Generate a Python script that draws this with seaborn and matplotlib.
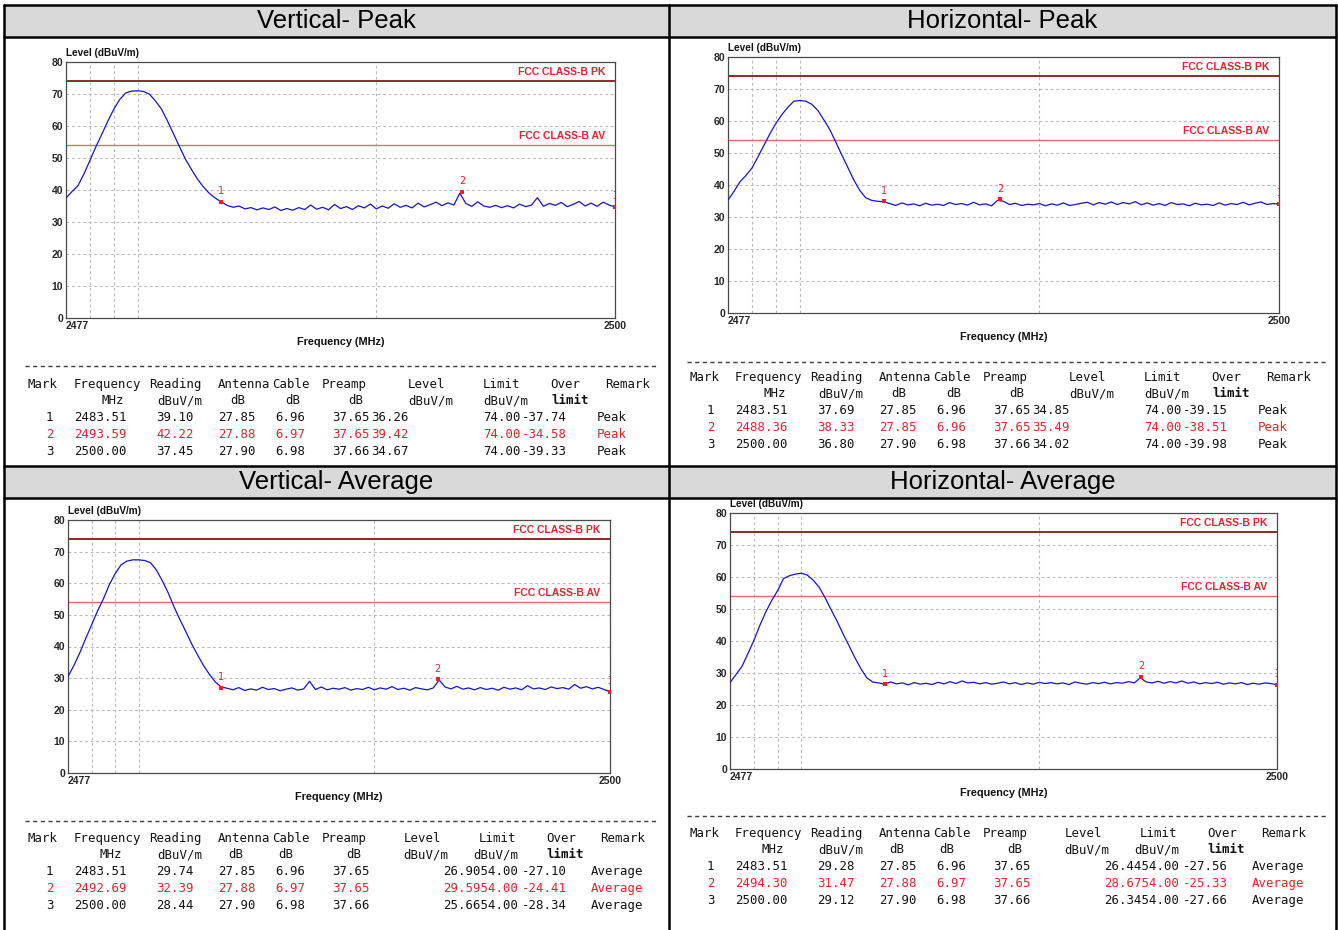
import matplotlib
matplotlib.use('Agg')
import matplotlib.pyplot as plt
from matplotlib import font_manager
from matplotlib.patches import Rectangle
import seaborn as sns

sns.set_style('white')
plt.rcParams['font.family'] = ['DejaVu Sans']

W, H = 1338, 930

# Frequency sweep points (MHz)
freq_mhz = [
    2477.00, 2477.25, 2477.50, 2477.75, 2478.00, 2478.25, 2478.50, 2478.75,
    2479.00, 2479.25, 2479.50, 2479.75, 2480.00, 2480.25, 2480.50, 2480.75,
    2481.00, 2481.25, 2481.50, 2481.75, 2482.00, 2482.25, 2482.50, 2482.75,
    2483.00, 2483.25, 2483.50, 2483.75, 2484.00, 2484.25, 2484.50, 2484.75,
    2485.00, 2485.25, 2485.50, 2485.75, 2486.00, 2486.25, 2486.50, 2486.75,
    2487.00, 2487.25, 2487.50, 2487.75, 2488.00, 2488.25, 2488.50, 2488.75,
    2489.00, 2489.25, 2489.50, 2489.75, 2490.00, 2490.25, 2490.50, 2490.75,
    2491.00, 2491.25, 2491.50, 2491.75, 2492.00, 2492.25, 2492.50, 2492.75,
    2493.00, 2493.25, 2493.50, 2493.75, 2494.00, 2494.25, 2494.50, 2494.75,
    2495.00, 2495.25, 2495.50, 2495.75, 2496.00, 2496.25, 2496.50, 2496.75,
    2497.00, 2497.25, 2497.50, 2497.75, 2498.00, 2498.25, 2498.50, 2498.75,
    2499.00, 2499.25, 2499.50, 2499.75, 2500.00,
]

# Level traces (dBuV/m)
vert_peak_trace = [
    37.5, 39.5, 41.3, 45.0, 49.2, 53.5, 57.4, 61.5,
    65.2, 68.3, 70.3, 70.9, 71.0, 70.8, 69.9, 67.8,
    65.3, 61.6, 57.6, 53.6, 49.7, 46.5, 43.5, 41.0,
    39.0, 37.5, 36.3, 35.2, 34.6, 35.0, 34.1, 34.5,
    33.8, 34.4, 33.9, 34.7, 33.6, 34.2, 33.7, 34.5,
    33.9, 35.3, 34.0, 34.6, 33.8, 35.5, 34.2, 34.8,
    33.9, 35.1, 34.4, 35.6, 34.1, 35.0, 34.3, 35.7,
    34.6, 35.2, 34.4, 35.9, 34.7, 35.4, 36.2, 35.1,
    36.0, 35.3, 39.0, 35.8, 34.9, 36.3, 35.0, 34.6,
    35.2, 34.5, 35.1, 34.4, 35.6, 34.8, 35.3, 37.6,
    34.9, 35.8, 35.2, 36.1, 34.8, 35.5, 36.4, 35.0,
    35.9, 34.9, 36.2, 35.3, 34.7,
]
horz_peak_trace = [
    35.3, 38.0, 41.0, 43.0, 45.3, 48.8, 52.4, 56.0,
    59.3, 62.0, 64.3, 66.2, 66.4, 66.2, 65.2, 63.3,
    60.4, 57.3, 53.4, 49.4, 45.5, 41.6, 38.3, 36.0,
    35.2, 34.9, 34.8, 34.2, 33.6, 34.4, 33.8, 34.1,
    33.5, 34.3, 33.7, 34.0, 33.6, 34.5, 33.9, 34.2,
    33.7, 34.6, 33.8, 34.1, 33.5, 35.2, 34.9, 33.9,
    34.3, 33.6, 34.0, 33.8, 34.2, 33.5, 34.1, 33.7,
    34.4, 33.6, 33.9, 34.3, 34.6, 33.8, 34.5, 34.0,
    34.7, 33.9, 34.5, 34.1, 34.8, 33.8, 34.4, 33.7,
    34.2, 33.6, 34.5, 33.9, 34.1, 33.5, 34.3, 33.8,
    34.0, 33.6, 34.4, 33.7, 34.2, 33.9, 34.6, 33.8,
    34.3, 34.7, 33.9, 34.2, 34.0,
]
vert_avg_trace = [
    30.5, 34.0, 38.0, 42.5, 46.8, 51.2, 55.0, 59.5,
    63.0, 65.8, 67.0, 67.4, 67.4, 67.2, 66.5, 64.2,
    60.8, 57.0, 52.5, 48.5, 44.7, 40.8, 37.3, 34.0,
    31.2, 28.8, 27.2, 26.8, 26.3, 27.0, 26.1, 26.6,
    26.2, 27.1, 26.4, 26.7, 26.0, 26.5, 26.9, 26.2,
    26.6, 29.0, 26.4, 27.2, 26.3, 26.8, 26.5, 27.0,
    26.2, 26.7, 26.4, 27.1, 26.3, 26.9, 26.5, 27.3,
    26.4, 26.8, 26.2, 27.0, 26.6, 26.3, 26.9, 29.4,
    27.2, 26.6, 27.4, 26.5, 26.9, 26.3, 27.0, 26.4,
    26.8, 26.2, 27.1, 26.5, 26.9, 26.3, 27.6, 26.6,
    26.9, 26.4, 27.2, 26.7, 27.0, 26.5, 28.0, 26.8,
    27.3, 26.6, 27.1, 26.4, 25.7,
]
horz_avg_trace = [
    27.0, 29.5, 32.0, 36.0, 40.1, 44.8, 49.0, 52.6,
    55.7, 59.5, 60.4, 60.9, 61.2, 60.6, 59.0, 56.8,
    53.5, 49.8, 46.2, 42.3, 38.6, 34.8, 31.4, 28.5,
    27.2, 26.9, 26.5, 27.2, 26.6, 26.9, 26.3, 27.0,
    26.5, 26.8, 26.4, 27.1, 26.6, 27.3, 26.7, 27.5,
    26.9, 27.1, 26.6, 27.0, 26.5, 26.8, 27.2, 26.6,
    27.0, 26.4, 26.9, 26.5, 27.1, 26.7, 27.0, 26.6,
    26.9, 26.4, 27.2, 26.8, 26.5, 27.0, 26.7, 27.1,
    26.6, 27.0, 26.8, 27.3, 26.9, 28.5, 27.2, 26.9,
    27.4, 26.8, 27.3, 26.9, 27.5, 26.8, 27.2, 26.6,
    27.0, 26.7, 27.1, 26.5, 26.9, 26.6, 27.0, 26.4,
    26.8, 26.5, 26.9, 26.7, 26.3,
]

grid_freqs = [2478, 2479, 2480, 2490]
pk_limit = 74
av_limit = 54

# Marker tables
mark_no = [1, 2, 3]

vp_freq = [2483.51, 2493.59, 2500.00]
vp_reading = [39.10, 42.22, 37.45]
vp_antenna = [27.85, 27.88, 27.90]
vp_cable = [6.96, 6.97, 6.98]
vp_preamp = [37.65, 37.65, 37.66]
vp_level = [36.26, 39.42, 34.67]
vp_limit = [74.00, 74.00, 74.00]
vp_over = [-37.74, -34.58, -39.33]

hp_freq = [2483.51, 2488.36, 2500.00]
hp_reading = [37.69, 38.33, 36.80]
hp_antenna = [27.85, 27.85, 27.90]
hp_cable = [6.96, 6.96, 6.98]
hp_preamp = [37.65, 37.65, 37.66]
hp_level = [34.85, 35.49, 34.02]
hp_limit = [74.00, 74.00, 74.00]
hp_over = [-39.15, -38.51, -39.98]

va_freq = [2483.51, 2492.69, 2500.00]
va_reading = [29.74, 32.39, 28.44]
va_antenna = [27.85, 27.88, 27.90]
va_cable = [6.96, 6.97, 6.98]
va_preamp = [37.65, 37.65, 37.66]
va_level = [26.90, 29.59, 25.66]
va_limit = [54.00, 54.00, 54.00]
va_over = [-27.10, -24.41, -28.34]

ha_freq = [2483.51, 2494.30, 2500.00]
ha_reading = [29.28, 31.47, 29.12]
ha_antenna = [27.85, 27.88, 27.90]
ha_cable = [6.96, 6.97, 6.98]
ha_preamp = [37.65, 37.65, 37.66]
ha_level = [26.44, 28.67, 26.34]
ha_limit = [54.00, 54.00, 54.00]
ha_over = [-27.56, -25.33, -27.66]

# Fonts
installed = {f.name for f in font_manager.fontManager.ttflist}
NARROW = 'Liberation Sans Narrow' if 'Liberation Sans Narrow' in installed else 'Liberation Sans'
MONO = 'DejaVu Sans Mono'
RED = '#e3222b'
BLUE = '#1414cc'
TXT = '#111111'

panels = [
    dict(title='Vertical- Peak', trace=vert_peak_trace, kind='peak',
         box=(66, 62, 615, 318), table=(28, 384, 366, 25, 657),
         freq=vp_freq, reading=vp_reading, antenna=vp_antenna, cable=vp_cable,
         preamp=vp_preamp, level=vp_level, limit=vp_limit, over=vp_over),
    dict(title='Horizontal- Peak', trace=horz_peak_trace, kind='peak',
         box=(728, 57, 1279, 313), table=(689, 377, 362, 687, 1326),
         freq=hp_freq, reading=hp_reading, antenna=hp_antenna, cable=hp_cable,
         preamp=hp_preamp, level=hp_level, limit=hp_limit, over=hp_over),
    dict(title='Vertical- Average', trace=vert_avg_trace, kind='avg',
         box=(68, 520, 610, 773), table=(28, 838, 821, 25, 658),
         freq=va_freq, reading=va_reading, antenna=va_antenna, cable=va_cable,
         preamp=va_preamp, level=va_level, limit=va_limit, over=va_over),
    dict(title='Horizontal- Average', trace=horz_avg_trace, kind='avg',
         box=(730, 513, 1277, 769), table=(689, 833, 816, 687, 1326),
         freq=ha_freq, reading=ha_reading, antenna=ha_antenna, cable=ha_cable,
         preamp=ha_preamp, level=ha_level, limit=ha_limit, over=ha_over),
]

HEAD = {
    'peak': [('Mark', 0), ('Frequency', 46), ('Reading', 121), ('Antenna', 190),
             ('Cable', 244), ('Preamp', 294), ('Level', 380), ('Limit', 455),
             ('Over', 522), ('Remark', 577)],
    'avg': [('Mark', 0), ('Frequency', 46), ('Reading', 121), ('Antenna', 190),
            ('Cable', 244), ('Preamp', 294), ('Level', 376), ('Limit', 451),
            ('Over', 518), ('Remark', 572)],
}
UNITS = {
    'peak': [('MHz', 74), ('dBuV/m', 129), ('dB', 202), ('dB', 257), ('dB', 320),
             ('dBuV/m', 380), ('dBuV/m', 455), ('limit', 523)],
    'avg': [('MHz', 72), ('dBuV/m', 129), ('dB', 200), ('dB', 250), ('dB', 318),
            ('dBuV/m', 375), ('dBuV/m', 445), ('limit', 518)],
}

fig = plt.figure(figsize=(W / 100, H / 100), dpi=100)
fig.patch.set_facecolor('white')
bg = fig.add_axes([0, 0, 1, 1])
bg.set_xlim(0, W)
bg.set_ylim(H, 0)
bg.axis('off')

# Outer table frame and grey title bands
for y0 in (5, 466):
    bg.add_patch(Rectangle((4, y0), 1332, 32, facecolor='#d9d9d9', edgecolor='none'))
for y in (5, 37, 466, 498):
    bg.plot([4, 1336], [y, y], color='black', lw=1.8)
for x in (4, 669, 1336):
    bg.plot([x, x], [5, 930], color='black', lw=1.8)

title_pos = [(336.5, 21), (1002.5, 21), (336.5, 482), (1002.5, 482)]

mono = dict(family=MONO, fontsize=8.9, va='center')


def draw_chart(p):
    l, t, r, b = p['box']
    ax = fig.add_axes([l / W, 1 - b / H, (r - l) / W, (b - t) / H])
    ax.set_facecolor('white')
    for v in range(10, 80, 10):
        ax.axhline(v, color='#b9b9b9', lw=0.8, ls=(0, (2.5, 2.5)), zorder=0)
    for f in grid_freqs:
        ax.axvline(f, color='#b9b9b9', lw=0.8, ls=(0, (2.5, 2.5)), zorder=0)
    ax.axhline(pk_limit, color='#8e2a2a', lw=1.4, zorder=2)
    ax.axhline(av_limit, color='#e56a6a', lw=1.0, zorder=2)
    ax.text(2499.6, pk_limit + 1.3, 'FCC CLASS-B PK', ha='right', va='bottom',
            color=RED, fontsize=7.5, fontweight='bold', family=NARROW)
    ax.text(2499.6, av_limit + 1.3, 'FCC CLASS-B AV', ha='right', va='bottom',
            color=RED, fontsize=7.5, fontweight='bold', family=NARROW)

    sns.lineplot(x=freq_mhz, y=p['trace'], ax=ax, color=BLUE, linewidth=0.9,
                 errorbar=None, zorder=3)
    sns.scatterplot(x=p['freq'], y=p['level'], ax=ax, marker='s', s=10,
                    color=RED, linewidth=0, zorder=5)
    for m, f, lv in zip(mark_no, p['freq'], p['level']):
        ax.text(f, lv + 1.8, str(m), color=RED, fontsize=7, ha='center',
                va='bottom', zorder=6, clip_on=True)

    ax.set_xlim(2477, 2500)
    ax.set_ylim(0, 80)
    ax.set_yticks(range(0, 81, 10))
    ax.set_yticklabels([str(v) for v in range(0, 81, 10)], fontsize=7.5,
                       fontweight='bold', family=NARROW)
    ax.set_xticks([2477, 2500])
    ax.set_xticklabels(['2477', '2500'], fontsize=7.5, fontweight='bold', family=NARROW)
    xl = ax.get_xticklabels()
    xl[0].set_ha('left')
    xl[1].set_ha('center')
    ax.tick_params(length=0, pad=2)
    ax.set_xlabel('')
    ax.set_ylabel('')
    for s in ax.spines.values():
        s.set_color('#4a4a4a')
        s.set_linewidth(0.9)

    bg.text(l, t - 4, 'Level (dBuV/m)', fontsize=7.2, fontweight='bold',
            family=NARROW, ha='left', va='bottom', color=TXT)
    bg.text((l + r) / 2, b + 24, 'Frequency (MHz)', fontsize=7.8, fontweight='bold',
            family=NARROW, ha='center', va='center', color=TXT)


def draw_table(p):
    x0, y0, sep_y, sx0, sx1 = p['table']
    kind = p['kind']
    bg.plot([sx0, sx1], [sep_y, sep_y], color='#3c3c3c', lw=1.0, ls=(0, (3, 2.5)))
    for txt, dx in HEAD[kind]:
        bg.text(x0 + dx, y0, txt, color=TXT, **mono)
    for txt, dx in UNITS[kind]:
        bg.text(x0 + dx, y0 + 16.5, txt, color=TXT,
                fontweight='bold' if txt == 'limit' else 'normal', **mono)
    remark = 'Peak' if kind == 'peak' else 'Average'
    for i in range(3):
        y = y0 + 33.5 + 17 * i
        col = RED if i == 1 else TXT
        cells = [
            (str(mark_no[i]), 18),
            (f"{p['freq'][i]:.2f}", 46),
            (f"{p['reading'][i]:.2f}", 128),
            (f"{p['antenna'][i]:.2f}", 190),
            (f"{p['cable'][i]:.2f}", 247),
            (f"{p['preamp'][i]:.2f}", 304),
        ]
        if kind == 'peak':
            cells += [(f"{p['level'][i]:.2f}", 343), (f"{p['limit'][i]:.2f}", 455),
                      (f"{p['over'][i]:.2f}", 494), (remark, 569)]
        else:
            cells += [(f"{p['over'][i]:.2f}", 494), (remark, 563)]
            bg.text(x0 + 490, y, f"{p['level'][i]:.2f}{p['limit'][i]:.2f}",
                    color=col, ha='right', **mono)
        for txt, dx in cells:
            bg.text(x0 + dx, y, txt, color=col, ha='left', **mono)


for p, (tx, ty) in zip(panels, title_pos):
    bg.text(tx, ty, p['title'], fontsize=18.5, family='Liberation Sans',
            ha='center', va='center', color='black')
    draw_chart(p)
    draw_table(p)

fig.savefig('out.png', dpi=100, facecolor='white')
